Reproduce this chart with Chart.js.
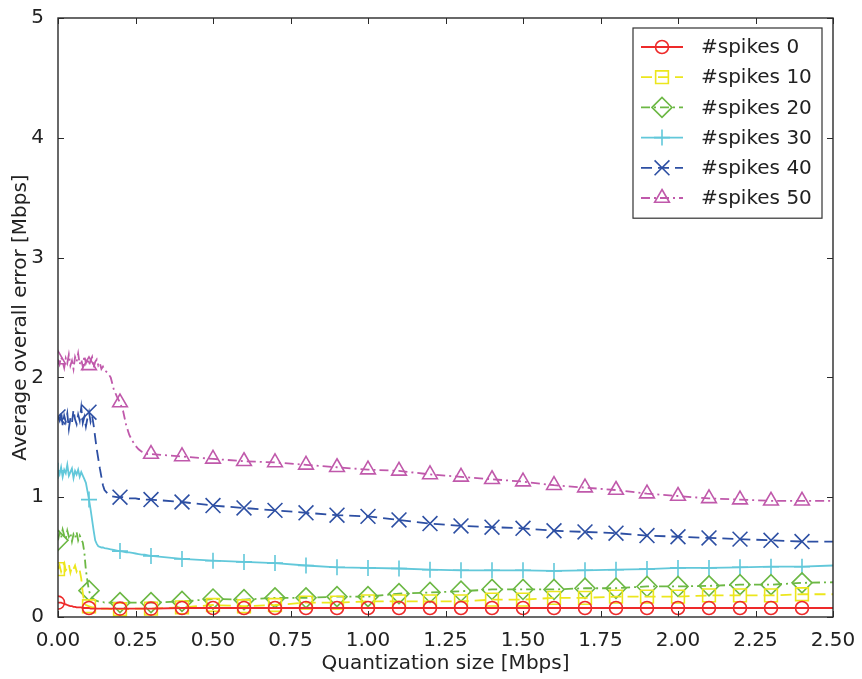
<!DOCTYPE html>
<html>
<head>
<meta charset="utf-8">
<script src="https://cdn.jsdelivr.net/npm/chart.js@4/dist/chart.umd.min.js"></script>
<style>
  html, body { margin: 0; padding: 0; background: #fff; }
  #wrap { width: 862px; height: 679px; }
</style>
</head>
<body>
<div id="wrap"><canvas id="chart" width="862" height="679"></canvas></div>
<script>
// x values: quantization size in Mbps
const quantSize = [
  0, 0.005, 0.01, 0.015, 0.02, 0.025, 0.03, 0.035, 0.04, 0.045, 0.05, 0.055, 0.06, 0.065, 0.07, 0.075,
  0.08, 0.085, 0.09, 0.095, 0.1, 0.105, 0.11, 0.115, 0.12, 0.125, 0.13, 0.135, 0.14, 0.145, 0.15,
  0.16, 0.17, 0.18, 0.19, 0.2, 0.21, 0.22, 0.23, 0.24, 0.25, 0.26, 0.27, 0.28, 0.29, 0.3,
  0.4, 0.5, 0.6, 0.7, 0.8, 0.9, 1.0, 1.1, 1.2, 1.3, 1.4, 1.5, 1.6, 1.7, 1.8, 1.9, 2.0, 2.1, 2.2, 2.3, 2.4, 2.5
];

const seriesLabels = ['#spikes 0', '#spikes 10', '#spikes 20', '#spikes 30', '#spikes 40', '#spikes 50'];

// average overall error [Mbps], one array per series
const spikes0 = [
  0.12, 0.12, 0.12, 0.115, 0.11, 0.105, 0.10, 0.095, 0.09, 0.09, 0.085, 0.085, 0.08, 0.08, 0.08, 0.08,
  0.075, 0.075, 0.075, 0.075, 0.075, 0.07, 0.07, 0.07, 0.07, 0.07, 0.07, 0.07, 0.07, 0.07, 0.07,
  0.07, 0.07, 0.07, 0.07, 0.07, 0.07, 0.07, 0.07, 0.07, 0.07, 0.07, 0.07, 0.07, 0.07, 0.07,
  0.075, 0.075, 0.075, 0.075, 0.075, 0.075, 0.075, 0.075, 0.075, 0.075, 0.075, 0.075, 0.075, 0.075, 0.075,
  0.075, 0.075, 0.075, 0.075, 0.075, 0.075, 0.075
];
const spikes10 = [
  0.40, 0.43, 0.38, 0.42, 0.45, 0.39, 0.41, 0.44, 0.37, 0.42, 0.40, 0.43, 0.38, 0.41, 0.39, 0.32,
  0.20, 0.12, 0.10, 0.095, 0.09, 0.085, 0.08, 0.08, 0.075, 0.075, 0.07, 0.07, 0.07, 0.07, 0.07,
  0.07, 0.065, 0.065, 0.065, 0.065, 0.065, 0.065, 0.065, 0.07, 0.07, 0.07, 0.07, 0.07, 0.07, 0.07,
  0.08, 0.10, 0.09, 0.10, 0.12, 0.12, 0.13, 0.13, 0.13, 0.13, 0.145, 0.145, 0.16, 0.16, 0.17,
  0.17, 0.17, 0.18, 0.18, 0.18, 0.19, 0.19
];
const spikes20 = [
  0.64, 0.70, 0.66, 0.73, 0.68, 0.65, 0.72, 0.67, 0.70, 0.63, 0.69, 0.66, 0.71, 0.64, 0.68, 0.65,
  0.62, 0.54, 0.39, 0.30, 0.22, 0.18, 0.16, 0.15, 0.14, 0.135, 0.13, 0.13, 0.125, 0.125, 0.12,
  0.12, 0.12, 0.12, 0.12, 0.12, 0.12, 0.12, 0.12, 0.12, 0.12, 0.12, 0.12, 0.12, 0.12, 0.12,
  0.13, 0.15, 0.145, 0.16, 0.16, 0.17, 0.17, 0.195, 0.205, 0.215, 0.23, 0.23, 0.23, 0.24, 0.24,
  0.255, 0.255, 0.26, 0.27, 0.27, 0.285, 0.29
];
const spikes30 = [
  1.22, 1.19, 1.25, 1.17, 1.23, 1.20, 1.27, 1.18, 1.21, 1.24, 1.16, 1.22, 1.19, 1.23, 1.17, 1.21,
  1.18, 1.15, 1.12, 1.05, 0.98, 0.90, 0.81, 0.72, 0.64, 0.61, 0.59, 0.585, 0.58, 0.58, 0.575,
  0.57, 0.565, 0.56, 0.555, 0.55, 0.545, 0.54, 0.54, 0.535, 0.53, 0.525, 0.52, 0.52, 0.515, 0.51,
  0.485, 0.47, 0.46, 0.45, 0.43, 0.415, 0.41, 0.405, 0.395, 0.39, 0.39, 0.39, 0.385, 0.39, 0.395,
  0.40, 0.41, 0.41, 0.415, 0.42, 0.42, 0.43
];
const spikes40 = [
  1.67, 1.64, 1.72, 1.60, 1.68, 1.63, 1.70, 1.57, 1.66, 1.62, 1.73, 1.65, 1.61, 1.69, 1.64, 1.75,
  1.62, 1.67, 1.59, 1.66, 1.71, 1.63, 1.68, 1.60, 1.50, 1.40, 1.32, 1.24, 1.17, 1.10, 1.06,
  1.03, 1.01, 1.005, 1.0, 1.0, 1.0, 0.995, 0.99, 0.99, 0.99, 0.985, 0.985, 0.98, 0.98, 0.98,
  0.96, 0.93, 0.91, 0.89, 0.87, 0.85, 0.84, 0.81, 0.78, 0.76, 0.75, 0.74, 0.72, 0.71, 0.70,
  0.68, 0.67, 0.66, 0.65, 0.64, 0.63, 0.63
];
const spikes50 = [
  2.15, 2.11, 2.17, 2.13, 2.08, 2.16, 2.12, 2.19, 2.10, 2.14, 2.07, 2.17, 2.13, 2.20, 2.11, 2.15,
  2.09, 2.18, 2.12, 2.16, 2.10, 2.14, 2.17, 2.08, 2.13, 2.15, 2.10, 2.12, 2.07, 2.09, 2.06,
  2.04, 2.00, 1.90, 1.84, 1.79, 1.72, 1.60, 1.52, 1.47, 1.43, 1.40, 1.38, 1.37, 1.36, 1.36,
  1.34, 1.32, 1.30, 1.29, 1.27, 1.25, 1.23, 1.22, 1.19, 1.17, 1.15, 1.13, 1.10, 1.08, 1.06,
  1.03, 1.01, 0.99, 0.98, 0.97, 0.97, 0.97
];

const xTicks = [0, 0.25, 0.5, 0.75, 1.0, 1.25, 1.5, 1.75, 2.0, 2.25, 2.5];
const yTicks = [0, 1, 2, 3, 4, 5];

const allSeries = [spikes0, spikes10, spikes20, spikes30, spikes40, spikes50];
const colors = ['#ee2a2a', '#ece61c', '#6cb844', '#62c8da', '#2d4fa3', '#c059ab'];
const dashes = [[], [11, 6], [9, 4, 2, 4], [], [11, 6], [9, 4, 2, 4]];
const markers = ['circle', 'rect', 'rectRot', 'cross', 'crossRot', 'triangle'];
const markerSizes = [6.5, 9, 10, 8, 10.5, 8.5];

// markers only every 0.1 Mbps up to 2.4
function markerRadius(r) {
  return (c) => {
    const x = c.raw ? c.raw.x : 0;
    const k = Math.round(x * 10);
    return (Math.abs(x * 10 - k) < 1e-6 && k <= 24) ? r : 0;
  };
}

const datasets = allSeries.map((vals, i) => ({
  label: seriesLabels[i],
  data: quantSize.map((x, j) => ({ x: x, y: vals[j] })),
  borderColor: colors[i],
  borderWidth: 1.8,
  borderDash: dashes[i],
  pointStyle: markers[i],
  pointRadius: markerRadius(markerSizes[i]),
  pointBorderColor: colors[i],
  pointBackgroundColor: 'rgba(0,0,0,0)',
  pointBorderWidth: 1.6,
  markerSize: markerSizes[i],
  tension: 0,
  fill: false
}));

const frameAndLegend = {
  id: 'frameAndLegend',
  afterDatasetsDraw(chart) {
    const { ctx, chartArea: a, scales: { x, y } } = chart;
    ctx.save();
    ctx.setLineDash([]);
    ctx.strokeStyle = '#2a2a2a';
    ctx.lineWidth = 1.4;
    ctx.strokeRect(a.left, a.top, a.right - a.left, a.bottom - a.top);
    // inward ticks on all four sides
    ctx.lineWidth = 1;
    ctx.beginPath();
    x.ticks.forEach(t => {
      const px = Math.round(x.getPixelForValue(t.value)) + 0.5;
      ctx.moveTo(px, a.bottom); ctx.lineTo(px, a.bottom - 6);
      ctx.moveTo(px, a.top); ctx.lineTo(px, a.top + 6);
    });
    y.ticks.forEach(t => {
      const py = Math.round(y.getPixelForValue(t.value)) + 0.5;
      ctx.moveTo(a.left, py); ctx.lineTo(a.left + 6, py);
      ctx.moveTo(a.right, py); ctx.lineTo(a.right - 6, py);
    });
    ctx.stroke();

    // legend box, upper right inside the axes
    const bw = 189, rowH = 30.2;
    const bx = a.right - 11 - bw, by = a.top + 10;
    const bh = rowH * chart.data.datasets.length + 9;
    ctx.fillStyle = '#fff';
    ctx.fillRect(bx, by, bw, bh);
    ctx.strokeStyle = '#333';
    ctx.lineWidth = 1.2;
    ctx.strokeRect(bx, by, bw, bh);
    ctx.font = '20px "DejaVu Sans"';
    ctx.textBaseline = 'middle';
    chart.data.datasets.forEach((ds, i) => {
      const cy = by + 19 + i * rowH;
      ctx.strokeStyle = ds.borderColor;
      ctx.lineWidth = ds.borderWidth;
      ctx.setLineDash(ds.borderDash);
      ctx.beginPath();
      ctx.moveTo(bx + 8, cy); ctx.lineTo(bx + 50, cy);
      ctx.stroke();
      ctx.setLineDash([]);
      ctx.fillStyle = 'rgba(0,0,0,0)';
      ctx.lineWidth = ds.pointBorderWidth;
      Chart.helpers.drawPoint(ctx, {
        pointStyle: ds.pointStyle, radius: ds.markerSize, rotation: 0, borderWidth: ds.pointBorderWidth
      }, bx + 29, cy);
      ctx.fillStyle = '#222';
      ctx.fillText(ds.label, bx + 68, cy + 1);
    });
    ctx.restore();
  }
};

new Chart(document.getElementById('chart'), {
  type: 'line',
  data: { datasets: datasets },
  plugins: [frameAndLegend],
  options: {
    responsive: false,
    animation: false,
    layout: { padding: { top: 18, right: 29, left: 0, bottom: 0 } },
    plugins: { legend: { display: false }, tooltip: { enabled: false } },
    scales: {
      x: {
        type: 'linear',
        min: 0, max: 2.5,
        afterFit: (s) => { s.height = 62; },
        afterBuildTicks: (s) => { s.ticks = xTicks.map(v => ({ value: v })); },
        grid: { display: false },
        border: { display: false },
        ticks: {
          color: '#222', padding: 4,
          font: { family: 'DejaVu Sans', size: 20 },
          callback: (v) => Number(v).toFixed(2)
        },
        title: {
          display: true, text: 'Quantization size [Mbps]', color: '#222',
          font: { family: 'DejaVu Sans', size: 20 },
          padding: { top: 0, bottom: 3 }
        }
      },
      y: {
        min: 0, max: 5,
        afterFit: (s) => { s.width = 58; },
        afterBuildTicks: (s) => { s.ticks = yTicks.map(v => ({ value: v })); },
        grid: { display: false },
        border: { display: false },
        ticks: {
          color: '#222', padding: 6,
          font: { family: 'DejaVu Sans', size: 20 },
          callback: (v) => String(v)
        },
        title: {
          display: true, text: 'Average overall error [Mbps]', color: '#222',
          font: { family: 'DejaVu Sans', size: 20 },
          padding: { top: 9, bottom: 0 }
        }
      }
    }
  }
});
</script>
</body>
</html>
